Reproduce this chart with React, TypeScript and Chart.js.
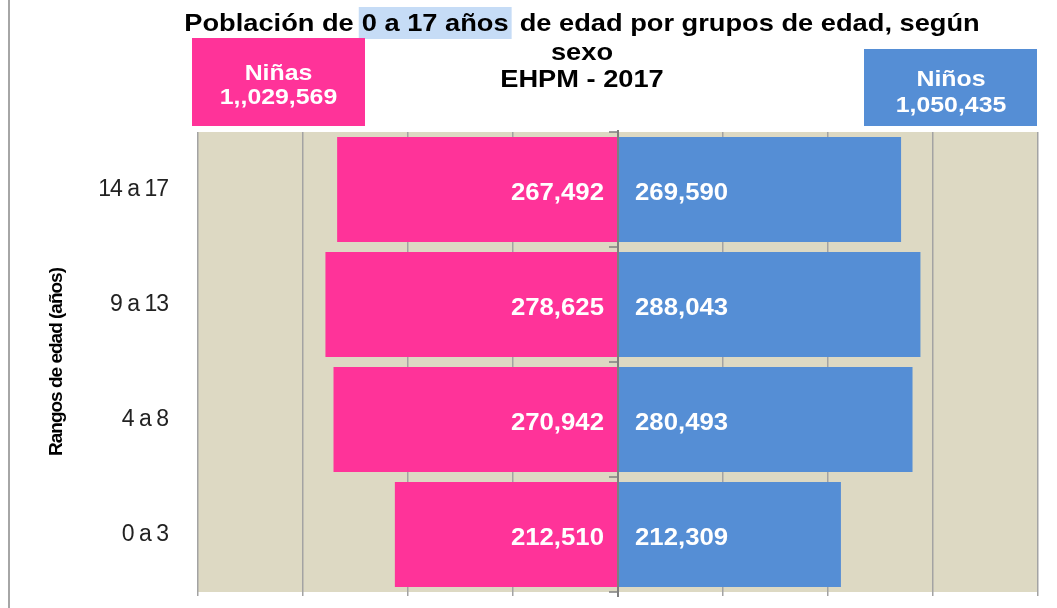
import React, { useEffect, useRef } from 'react';
import { Chart, registerables } from 'chart.js';

Chart.register(...registerables);

// ---- data ----
const categories = ['14 a 17', '9 a 13', '4 a 8', '0 a 3'];
const ninas = [267492, 278625, 270942, 212510];
const ninos = [269590, 288043, 280493, 212309];
const xMin = -400000;
const xMax = 400000;
const xStep = 100000;
const legendNinas = ['Niñas', '1,,029,569'];
const legendNinos = ['Niños', '1,050,435'];
const titleParts = ['Población de', '0 a 17 años', 'de edad por grupos de edad, según'];
const titleLine2 = 'sexo';
const titleLine3 = 'EHPM - 2017';
const yAxisTitle = 'Rangos de edad (años)';

// ---- styles ----
const PINK = '#FF3399';
const BLUE = '#558ED5';
const PLOT_BG = '#DDD9C3';
const GRID = '#A3A3A3';
const SANS = "'Liberation Sans', Arial, Helvetica, sans-serif";

function sText(ctx: CanvasRenderingContext2D, text: string, x: number, y: number, align: CanvasTextAlign, stretch: number) {
  ctx.save();
  ctx.translate(x, y);
  ctx.scale(stretch, 1);
  ctx.textAlign = align;
  ctx.fillText(text, 0, 0);
  ctx.restore();
}

const fmt = (v: number) => Math.abs(v).toLocaleString('en-US');

const decor = {
  id: 'decor',
  beforeDraw(chart: any) {
    const { ctx, chartArea: a } = chart;
    ctx.save();
    ctx.fillStyle = '#ffffff';
    ctx.fillRect(0, 0, chart.width, chart.height);
    ctx.fillStyle = PLOT_BG;
    ctx.fillRect(a.left, a.top, a.right - a.left, a.bottom - a.top);
    ctx.fillStyle = '#A6A6A6';
    ctx.fillRect(8, 0, 2, chart.height);
    ctx.restore();
    // condensed axis text (tick labels and axis title)
    (ctx as any).letterSpacing = '-1px';
  },
  afterDatasetsDraw(chart: any) {
    const { ctx, chartArea: a, scales } = chart;
    (ctx as any).letterSpacing = '0px';
    const xs = scales.x;
    const ys = scales.y;
    const x0 = xs.getPixelForValue(0);
    ctx.save();
    // center axis line with tick marks at category boundaries
    ctx.strokeStyle = '#7F7F7F';
    ctx.lineWidth = 2;
    ctx.beginPath();
    ctx.moveTo(x0, a.top - 2);
    ctx.lineTo(x0, a.bottom + 5);
    ctx.stroke();
    const band = ys.getPixelForValue(1) - ys.getPixelForValue(0);
    ctx.lineWidth = 1.5;
    for (let i = 0; i <= categories.length; i++) {
      const yy = ys.getPixelForValue(i) - band / 2;
      ctx.beginPath();
      ctx.moveTo(x0 - 9, yy);
      ctx.lineTo(x0, yy);
      ctx.stroke();
    }

    // data labels
    ctx.fillStyle = '#ffffff';
    ctx.font = `bold 23px ${SANS}`;
    ctx.textBaseline = 'middle';
    const m0 = chart.getDatasetMeta(0);
    const m1 = chart.getDatasetMeta(1);
    m0.data.forEach((el: any, i: number) => {
      sText(ctx, fmt(chart.data.datasets[0].data[i]), x0 - 14, el.y + 4, 'right', 1.12);
    });
    m1.data.forEach((el: any, i: number) => {
      sText(ctx, fmt(chart.data.datasets[1].data[i]), x0 + 17, el.y + 4, 'left', 1.12);
    });

    // title
    ctx.textBaseline = 'alphabetic';
    ctx.fillStyle = '#000000';
    const tStretch = 1.135;
    ctx.font = `bold 24px ${SANS}`;
    const widths = titleParts.map((p) => ctx.measureText(p).width * tStretch);
    const gaps = [8, 11];
    const total = widths.reduce((s, w) => s + w, 0) + gaps[0] + gaps[1];
    const cx = 582;
    const x1 = cx - total / 2;
    const x2 = x1 + widths[0] + gaps[0];
    const x3 = x2 + widths[1] + gaps[1];
    // highlight behind second part
    ctx.fillStyle = '#C6DCF6';
    ctx.fillRect(x2 - 3, 7, widths[1] + 6, 32);
    ctx.fillStyle = '#000000';
    sText(ctx, titleParts[0], x1, 31, 'left', tStretch);
    sText(ctx, titleParts[1], x2, 31, 'left', tStretch);
    sText(ctx, titleParts[2], x3, 31, 'left', tStretch);
    sText(ctx, titleLine2, cx, 60, 'center', tStretch);
    sText(ctx, titleLine3, cx, 87, 'center', tStretch);

    // legend boxes
    ctx.fillStyle = PINK;
    ctx.fillRect(192, 38, 173, 88);
    ctx.fillStyle = BLUE;
    ctx.fillRect(864, 49, 173, 77);
    ctx.fillStyle = '#ffffff';
    ctx.font = `bold 22px ${SANS}`;
    sText(ctx, legendNinas[0], 278.5, 80, 'center', 1.13);
    sText(ctx, legendNinas[1], 278.5, 104, 'center', 1.13);
    sText(ctx, legendNinos[0], 951, 86, 'center', 1.13);
    sText(ctx, legendNinos[1], 951, 112, 'center', 1.13);
    ctx.restore();
  },
};

export default function App() {
  const ref = useRef<HTMLCanvasElement>(null);
  useEffect(() => {
    const canvas = ref.current;
    if (!canvas) return;
    const chart = new Chart(canvas, {
      type: 'bar',
      data: {
        labels: categories,
        datasets: [
          {
            label: legendNinas[0],
            data: ninas.map((v) => -v),
            backgroundColor: PINK,
            borderWidth: 0,
            barPercentage: 0.915,
            categoryPercentage: 1,
          },
          {
            label: legendNinos[0],
            data: ninos,
            backgroundColor: BLUE,
            borderWidth: 0,
            barPercentage: 0.915,
            categoryPercentage: 1,
          },
        ],
      },
      options: {
        indexAxis: 'y',
        animation: false,
        responsive: true,
        maintainAspectRatio: false,
        layout: { padding: { top: 132, right: 19, bottom: 0, left: 0 } },
        plugins: {
          legend: { display: false },
          tooltip: { enabled: false },
          title: { display: false },
        },
        scales: {
          x: {
            stacked: true,
            min: xMin,
            max: xMax,
            ticks: { display: false, stepSize: xStep },
            grid: {
              color: (c: any) => (c.tick && c.tick.value === 0 ? 'rgba(0,0,0,0)' : GRID),
              lineWidth: 1.5,
              drawTicks: true,
              tickLength: 4,
            },
            border: { display: false },
            afterFit: (s: any) => {
              s.height = 16;
            },
          },
          y: {
            stacked: true,
            ticks: {
              color: '#222222',
              font: { family: SANS, size: 23 },
              padding: 30,
            },
            grid: { display: false, drawTicks: false },
            border: { display: false },
            title: {
              display: true,
              text: yAxisTitle,
              color: '#000000',
              font: { family: SANS, size: 19, weight: 'bold' },
              padding: { top: 45, bottom: 0 },
            },
            afterFit: (s: any) => {
              s.width = 198;
              s.paddingTop = 0;
              s.paddingBottom = 0;
            },
          },
        },
      },
      plugins: [decor],
    } as any);
    return () => chart.destroy();
  }, []);
  return (
    <div style={{ position: 'absolute', left: 0, top: 0, width: 1057, height: 608, background: '#ffffff' }}>
      <canvas ref={ref} />
    </div>
  );
}
